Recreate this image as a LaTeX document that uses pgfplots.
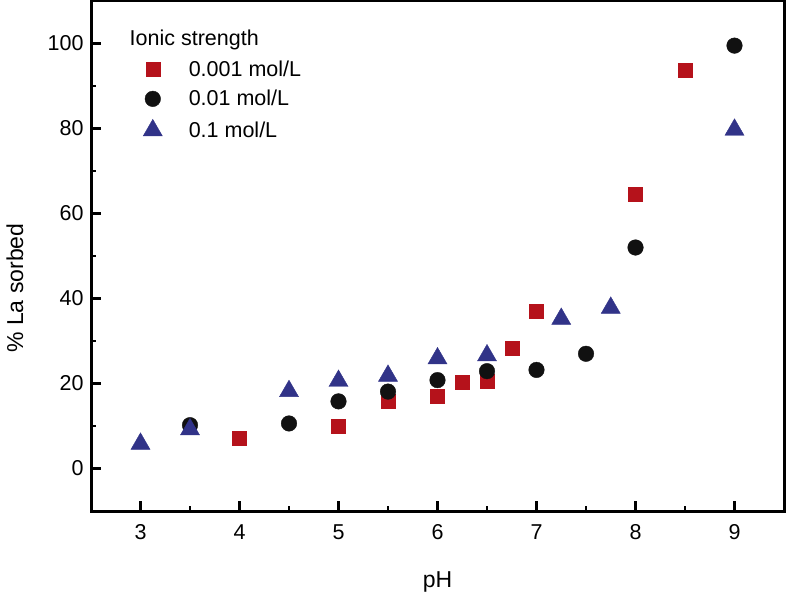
\documentclass[border=0pt]{standalone}
\usepackage{fontspec}
\setmainfont{Liberation Sans}
\usepackage{pgfplots}
\pgfplotsset{compat=1.18}
\definecolor{cred}{HTML}{B5121B}
\definecolor{cblue}{HTML}{313388}
\definecolor{cblack}{HTML}{111111}
\begin{document}
\begin{tikzpicture}
\begin{axis}[
  scale only axis,
  width=693pt, height=510pt,
  xmin=2.5, xmax=9.5, ymin=-10, ymax=110,
  axis lines*=box,
  axis line style={line width=2.8pt, black},
  xtick={3,4,5,6,7,8,9},
  ytick={0,20,40,60,80,100},
  minor tick num=1,
  tick align=inside,
  tick pos=left,
  major tick length=10pt, minor tick length=5pt,
  tick style={line width=2.7pt, black},
  /pgf/number format/assume math mode=true,
  tick label style={font=\fontsize{21.5}{24}\selectfont},
  xticklabel style={anchor=base, yshift=-28pt},
  yticklabel style={xshift=-4pt},
  xlabel={pH}, ylabel={\% La sorbed},
  every axis x label/.style={at={(rel axis cs:0.5,0)}, anchor=base, yshift=-76pt, font=\fontsize{23}{26}\selectfont},
  every axis y label/.style={at={(rel axis cs:0,0.437)}, anchor=center, xshift=-76pt, rotate=90, font=\fontsize{23}{26}\selectfont},
  legend style={at={(rel axis cs:0.073,0.884)}, anchor=north west, draw=none, fill=none,
    font=\fontsize{21.5}{24}\selectfont, row sep=11.5pt, inner sep=0pt,
    nodes={inner xsep=4pt, inner ysep=0pt}},
  legend cell align=left,
  legend image code/.code={\draw[#1] plot coordinates {(0pt,0pt)}; \path[draw=none, fill=none] (-11pt,-9pt) rectangle (32pt,9pt);},
]
\addplot[only marks, mark=square*, mark size=7pt, color=cred] coordinates {
(4,7.1) (5,10.0) (5.5,15.8) (6,16.9) (6.25,20.2) (6.5,20.6) (6.75,28.2) (7,36.9) (8,64.5) (8.5,93.6)};
\addlegendentry{0.001 mol/L}
\addplot[only marks, mark=*, mark size=7.8pt, color=cblack] coordinates {
(3.5,10.2) (4.5,10.6) (5,15.8) (5.5,18.1) (6,20.8) (6.5,22.9) (7,23.2) (7.5,27.0) (8,52.0) (9,99.5)};
\addlegendentry{0.01 mol/L}
\addplot[only marks, mark=triangle*, mark size=11pt, color=cblue] coordinates {
(3,5.8) (3.5,9.2) (4.5,18.2) (5,20.6) (5.5,21.8) (6,25.9) (6.5,26.6) (7.25,35.2) (7.75,37.8) (9,79.7)};
\addlegendentry{0.1 mol/L}
\node[anchor=base west, inner sep=0pt, font=\fontsize{21.5}{24}\selectfont] at (rel axis cs:0.0555,0.913) {Ionic strength};
\coordinate (bl) at (rel axis cs:0,0);
\coordinate (tr) at (rel axis cs:1,1);
\end{axis}
\draw[line width=3pt, black] (bl) rectangle (tr);
\pgfresetboundingbox
\path[use as bounding box] ([shift={(-91pt,-81pt)}]bl) rectangle ([shift={(3pt,1pt)}]tr);
\end{tikzpicture}
\end{document}
